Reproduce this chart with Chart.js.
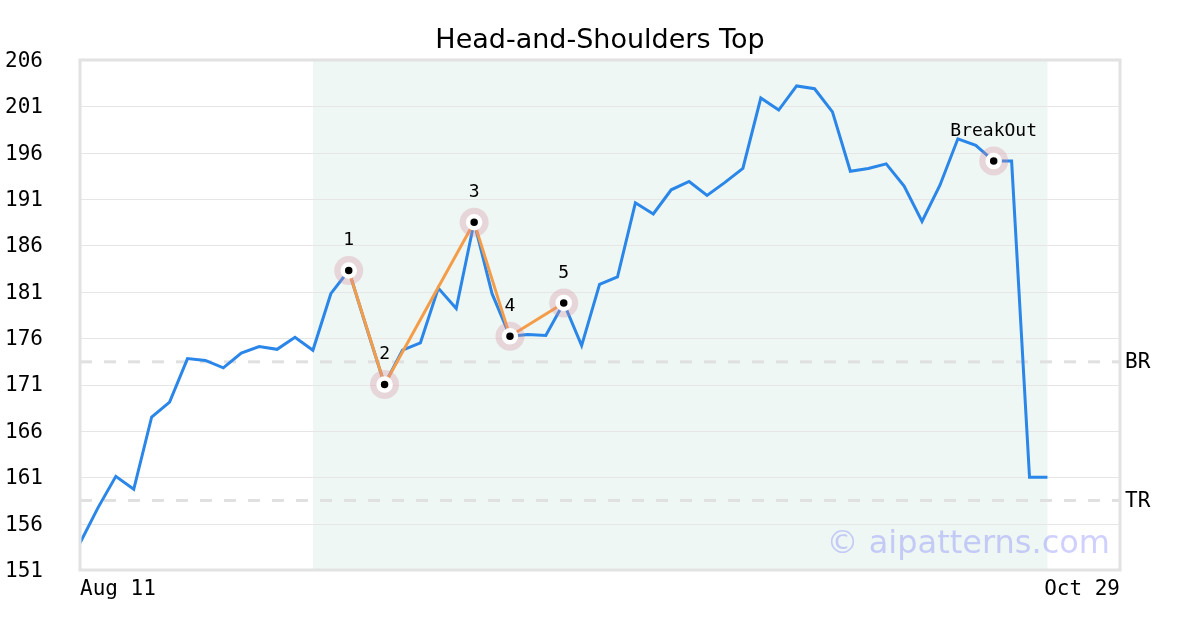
<!DOCTYPE html>
<html>
<head>
<meta charset="utf-8">
<title>Head-and-Shoulders Top</title>
<script src="https://cdn.jsdelivr.net/npm/chart.js@4"></script>
<style>
  html, body { margin: 0; padding: 0; background: #fff; }
  #wrap { width: 1200px; height: 630px; }
</style>
</head>
<body>
<div id="wrap"><canvas id="chart" width="1200" height="630"></canvas></div>
<script>
// closing prices, one per trading day starting Aug 11
const prices = [
  153.9, 157.7, 161.1, 159.7, 167.5, 169.1, 173.8, 173.6, 172.8, 174.4,
  175.1, 174.8, 176.1, 174.7, 180.8, 183.3, 177.1, 171.0, 174.7, 175.5,
  181.4, 179.2, 188.5, 180.8, 176.2, 176.4, 176.3, 179.8, 175.2, 181.8,
  182.6, 190.6, 189.4, 192.0, 192.9, 191.4, 192.8, 194.3, 201.9, 200.6,
  203.2, 202.9, 200.4, 194.0, 194.3, 194.8, 192.4, 188.6, 192.5, 197.5,
  196.8, 195.1, 195.1, 161.0, 161.0
];

// pattern pivots 1..5 (index into prices)
const pivotNames = ['1', '2', '3', '4', '5'];
const pivotIdx = [15, 17, 22, 24, 27];
const breakoutIdx = 51;
const breakoutName = 'BreakOut';

// shaded range of the pattern
const patternRange = [13, 54];

// horizontal levels
const levelNames = ['BR', 'TR'];
const levelValues = [173.45, 158.5];

// axes
const yTicks = [151, 156, 161, 166, 171, 176, 181, 186, 191, 196, 201, 206];
const xTickLabels = ['Aug 11', 'Oct 29'];
const xEnd = 58.05; // last day on the axis, in trading-day units

const mono = "'DejaVu Sans Mono', monospace";
const sans = "'DejaVu Sans', sans-serif";

const linePts = prices.map((v, i) => ({ x: i, y: v }));
const pivotPts = pivotIdx.map(i => ({ x: i, y: prices[i] }));
const markPts = pivotPts.concat([{ x: breakoutIdx, y: prices[breakoutIdx] }]);
const markNames = pivotNames.concat([breakoutName]);

const bgPlugin = {
  id: 'bg',
  beforeDatasetsDraw(chart) {
    const { ctx, chartArea: a, scales: { x, y } } = chart;
    ctx.save();
    // pattern shading
    const x0 = x.getPixelForValue(patternRange[0]);
    const x1 = x.getPixelForValue(patternRange[1]);
    ctx.fillStyle = '#eef7f3';
    ctx.fillRect(x0, a.top, x1 - x0, a.bottom - a.top);
    // grid on top of the shade
    ctx.strokeStyle = '#e6e6e6';
    ctx.lineWidth = 1;
    yTicks.forEach(t => {
      const py = Math.round(y.getPixelForValue(t)) + 0.5;
      ctx.beginPath(); ctx.moveTo(a.left, py); ctx.lineTo(a.right, py); ctx.stroke();
    });
    // dashed levels
    ctx.setLineDash([12, 12]);
    ctx.strokeStyle = '#e0e0e0';
    ctx.lineWidth = 3;
    levelValues.forEach(v => {
      const py = y.getPixelForValue(v);
      ctx.beginPath(); ctx.moveTo(a.left, py); ctx.lineTo(a.right, py); ctx.stroke();
    });
    ctx.setLineDash([]);
    // watermark
    ctx.font = '32px ' + sans;
    ctx.fillStyle = 'rgba(100,100,255,0.3)';
    ctx.textAlign = 'right';
    ctx.textBaseline = 'alphabetic';
    ctx.fillText('© aipatterns.com', a.right - 10, a.bottom - 17);
    ctx.restore();
  },
  afterDatasetsDraw(chart) {
    const { ctx, chartArea: a, scales: { x, y } } = chart;
    ctx.save();
    // plot frame
    ctx.strokeStyle = '#e2e2e2';
    ctx.lineWidth = 3;
    ctx.strokeRect(a.left, a.top, a.right - a.left, a.bottom - a.top);
    // level labels
    ctx.font = '21px ' + mono;
    ctx.fillStyle = '#000';
    ctx.textAlign = 'left';
    ctx.textBaseline = 'middle';
    levelValues.forEach((v, k) => {
      ctx.fillText(levelNames[k], a.right + 5, y.getPixelForValue(v) + 1);
    });
    // point labels
    ctx.font = '18px ' + mono;
    ctx.textAlign = 'center';
    markPts.forEach((p, k) => {
      ctx.fillText(markNames[k], x.getPixelForValue(p.x), y.getPixelForValue(p.y) - 30);
    });
    ctx.restore();
  }
};

new Chart(document.getElementById('chart'), {
  type: 'line',
  data: {
    datasets: [
      {
        data: markPts,
        showLine: false,
        pointRadius: 6,
        pointBorderWidth: 4.5,
        pointBackgroundColor: '#000',
        pointBorderColor: '#fff',
        order: 1
      },
      {
        data: markPts,
        showLine: false,
        pointRadius: 14.5,
        pointBorderWidth: 0,
        pointBackgroundColor: 'rgba(215,140,160,0.3)',
        order: 2
      },
      {
        data: pivotPts,
        borderColor: '#f59c48',
        borderWidth: 3,
        pointRadius: 0,
        tension: 0,
        order: 3
      },
      {
        data: linePts,
        borderColor: '#2a86e8',
        borderWidth: 3,
        pointRadius: 0,
        tension: 0,
        order: 4
      }
    ]
  },
  options: {
    responsive: false,
    animation: false,
    events: [],
    layout: { padding: 0 },
    plugins: {
      legend: { display: false },
      tooltip: { enabled: false },
      title: {
        display: true,
        text: 'Head-and-Shoulders Top',
        color: '#000',
        font: { family: sans, size: 27, weight: 'normal', lineHeight: 1.2 },
        padding: { top: 25, bottom: 2.6 }
      }
    },
    scales: {
      x: {
        type: 'linear',
        min: 0,
        max: xEnd,
        grid: { display: false, drawTicks: false },
        border: { display: false },
        afterBuildTicks: s => { s.ticks = [{ value: 0 }, { value: xEnd }]; },
        afterFit: s => { s.height = 60; },
        ticks: {
          autoSkip: false,
          maxRotation: 0,
          align: 'inner',
          padding: 7,
          color: '#000',
          font: { family: mono, size: 21 },
          callback: (v, i) => xTickLabels[i]
        }
      },
      y: {
        min: 151,
        max: 206,
        grid: { display: false, drawTicks: false },
        border: { display: false },
        afterBuildTicks: s => { s.ticks = yTicks.map(v => ({ value: v })); },
        afterFit: s => { s.width = 80; },
        ticks: {
          padding: 37,
          labelOffset: 1.5,
          color: '#000',
          font: { family: mono, size: 21 },
          callback: v => String(v)
        }
      },
      // empty right-hand strip that holds the BR / TR labels
      yRight: {
        position: 'right',
        min: 151,
        max: 206,
        grid: { display: false, drawTicks: false },
        border: { display: false },
        afterFit: s => { s.width = 80; },
        ticks: { callback: () => '' }
      }
    }
  },
  plugins: [bgPlugin]
});
</script>
</body>
</html>
